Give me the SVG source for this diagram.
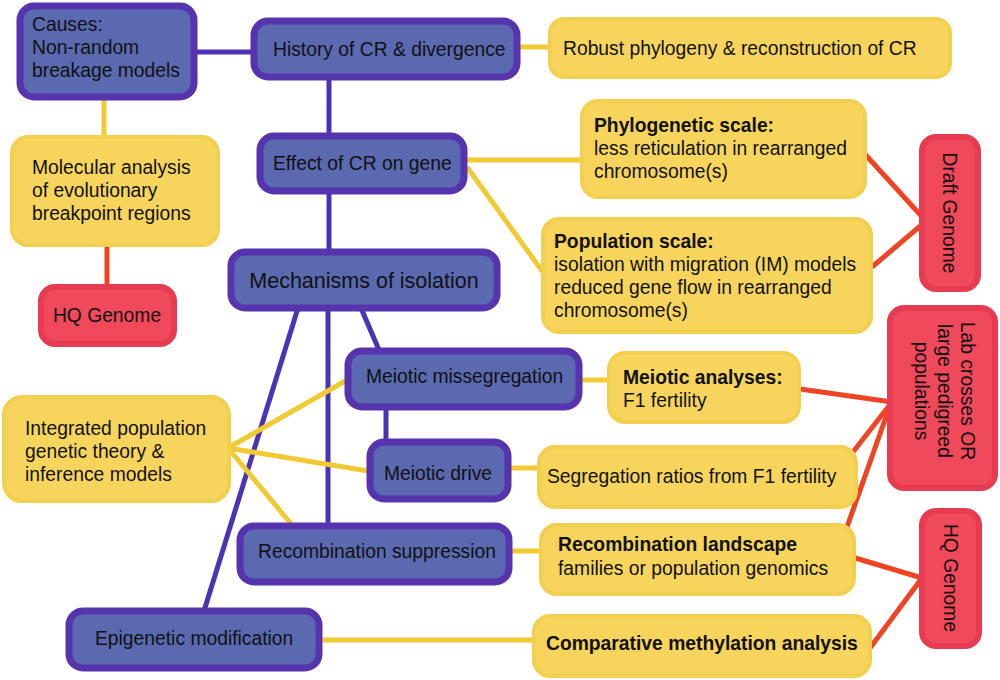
<svg xmlns="http://www.w3.org/2000/svg" width="1000" height="680" viewBox="0 0 1000 680">
<style>
text{font-family:"Liberation Sans",Arial,sans-serif;font-size:19.3px;fill:#111}
.b{font-weight:bold}
.p rect{fill:#5a69b0;stroke:#5634ae;stroke-width:7}
.y rect{fill:#f7d55c;stroke:#f2cf4e;stroke-width:4}
.r rect{fill:#f0495b;stroke:#e73b52;stroke-width:6}
.cp{stroke:#4a33b4;stroke-width:5;fill:none}
.cy{stroke:#f1ca33;stroke-width:5;fill:none}
.cr{stroke:#ef4423;stroke-width:5;fill:none}
</style>
<g id="connectors">
<line class="cp" x1="195" y1="52" x2="254" y2="52"/>
<line class="cp" x1="329" y1="80" x2="329" y2="134"/>
<line class="cp" x1="329" y1="194" x2="329" y2="251"/>
<line class="cp" x1="361" y1="308" x2="379" y2="350"/>
<line class="cp" x1="328" y1="308" x2="328" y2="524"/>
<line class="cp" x1="298" y1="308" x2="204" y2="611"/>
<line class="cp" x1="386" y1="410" x2="386" y2="440"/>
<line class="cy" x1="520" y1="47" x2="549" y2="47"/>
<line class="cy" x1="104" y1="100" x2="104" y2="137"/>
<line class="cy" x1="467" y1="160" x2="581" y2="160"/>
<line class="cy" x1="467" y1="167" x2="545" y2="275"/>
<line class="cy" x1="582" y1="380" x2="608" y2="380"/>
<line class="cy" x1="511" y1="468" x2="538" y2="468"/>
<line class="cy" x1="512" y1="551" x2="540" y2="551"/>
<line class="cy" x1="322" y1="640" x2="533" y2="640"/>
<line class="cy" x1="228" y1="448" x2="347" y2="380"/>
<line class="cy" x1="228" y1="448" x2="368" y2="471"/>
<line class="cy" x1="228" y1="448" x2="292" y2="525"/>
<line class="cr" x1="107" y1="247" x2="107" y2="286"/>
<line class="cr" x1="863" y1="152" x2="925" y2="220"/>
<line class="cr" x1="872" y1="267" x2="925" y2="222"/>
<line class="cr" x1="800" y1="389" x2="892" y2="402"/>
<line class="cr" x1="853" y1="452" x2="892" y2="402"/>
<line class="cr" x1="847" y1="527" x2="892" y2="400"/>
<line class="cr" x1="852" y1="557" x2="922" y2="578"/>
<line class="cr" x1="870" y1="648" x2="922" y2="578"/>
</g>
<g id="causes" class="p"><rect x="20" y="6" width="174" height="91" rx="14"/><text x="32" y="31">Causes:</text><text x="32" y="54">Non-random</text><text x="32" y="77">breakage models</text></g>
<g id="history" class="p"><rect x="254" y="21" width="263" height="56" rx="14"/><text x="273" y="56">History of CR &amp; divergence</text></g>
<g id="robust" class="y"><rect x="550" y="19" width="400" height="58" rx="14"/><text x="563" y="55">Robust phylogeny &amp; reconstruction of CR</text></g>
<g id="effect" class="p"><rect x="260" y="136" width="204" height="55" rx="14"/><text x="273" y="170">Effect of CR on gene</text></g>
<g id="molecular" class="y"><rect x="12" y="137" width="206" height="108" rx="16"/><text x="32" y="174">Molecular analysis</text><text x="32" y="197">of evolutionary</text><text x="32" y="220">breakpoint regions</text></g>
<g id="hq-left" class="r"><rect x="41" y="287" width="133" height="57" rx="14"/><text x="107" y="322" text-anchor="middle">HQ Genome</text></g>
<g id="mechanisms" class="p"><rect x="231" y="252" width="266" height="56" rx="14"/><text x="364" y="288" text-anchor="middle" style="font-size:21.5px">Mechanisms of isolation</text></g>
<g id="phylogenetic" class="y"><rect x="582" y="101" width="283" height="96" rx="16"/><text x="594" y="132" class="b">Phylogenetic scale:</text><text x="594" y="155">less reticulation in rearranged</text><text x="594" y="178">chromosome(s)</text></g>
<g id="population" class="y"><rect x="543" y="219" width="328" height="113" rx="16"/><text x="554" y="248" class="b">Population scale:</text><text x="554" y="271">isolation with migration (IM) models</text><text x="554" y="294">reduced gene flow in rearranged</text><text x="554" y="317">chromosome(s)</text></g>
<g id="draft" class="r"><rect x="922" y="137" width="56" height="152" rx="14"/><text transform="translate(949,213) rotate(90)" text-anchor="middle" dominant-baseline="central">Draft Genome</text></g>
<g id="labcrosses" class="r"><rect x="890" y="308" width="105" height="180" rx="14"/><text transform="translate(961,391) rotate(90)" text-anchor="middle">Lab crosses OR</text><text transform="translate(938,391) rotate(90)" text-anchor="middle">large pedigreed</text><text transform="translate(915,391) rotate(90)" text-anchor="middle">populations</text></g>
<g id="hq-right" class="r"><rect x="922" y="511" width="57" height="135" rx="14"/><text transform="translate(950,578) rotate(90)" text-anchor="middle" dominant-baseline="central">HQ Genome</text></g>
<g id="missegregation" class="p"><rect x="348" y="351" width="231" height="56" rx="14"/><text x="366" y="383">Meiotic missegregation</text></g>
<g id="meiotic-analyses" class="y"><rect x="609" y="353" width="190" height="69" rx="16"/><text x="623" y="384" class="b">Meiotic analyses:</text><text x="623" y="407">F1 fertility</text></g>
<g id="integrated" class="y"><rect x="4" y="397" width="225" height="104" rx="18"/><text x="25" y="435">Integrated population</text><text x="25" y="458">genetic theory &amp;</text><text x="25" y="481">inference models</text></g>
<g id="drive" class="p"><rect x="370" y="442" width="138" height="57" rx="14"/><text x="438" y="480" text-anchor="middle">Meiotic drive</text></g>
<g id="segregation" class="y"><rect x="539" y="447" width="317" height="60" rx="16"/><text x="547" y="483">Segregation ratios from F1 fertility</text></g>
<g id="recomb-supp" class="p"><rect x="240" y="526" width="269" height="56" rx="14"/><text x="258" y="558">Recombination suppression</text></g>
<g id="recomb-land" class="y"><rect x="541" y="525" width="313" height="69" rx="16"/><text x="558" y="551" class="b">Recombination landscape</text><text x="558" y="575">families or population genomics</text></g>
<g id="epigenetic" class="p"><rect x="69" y="611" width="250" height="57" rx="14"/><text x="95" y="645">Epigenetic modification</text></g>
<g id="comparative" class="y"><rect x="534" y="616" width="336" height="60" rx="16"/><text x="546" y="650" class="b">Comparative methylation analysis</text></g>
</svg>
